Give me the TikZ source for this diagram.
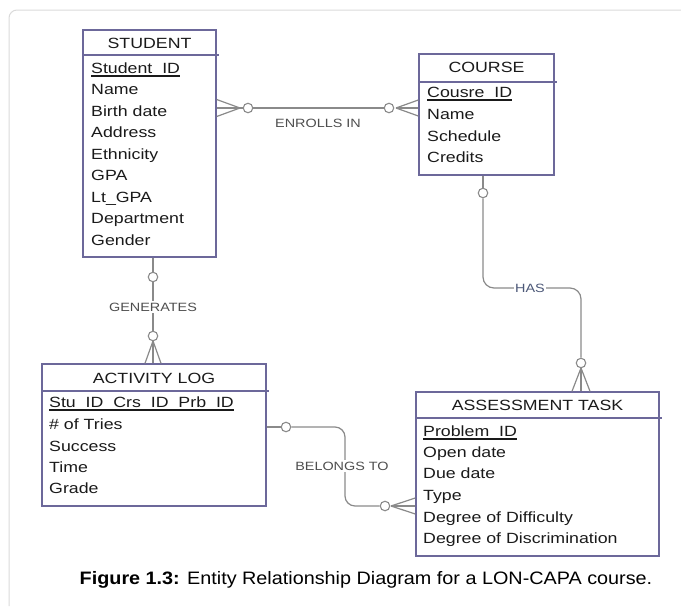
\documentclass[tikz,border=0pt]{standalone}
\usepackage{fontspec}
\setmainfont{Liberation Sans}
\newfontfamily\erfont[FakeStretch=1.2]{Liberation Sans}
\newfontfamily\capfont[FakeStretch=1.1]{Liberation Sans}
\usetikzlibrary{calc}
\definecolor{boxc}{HTML}{6C689A}
\definecolor{linec}{HTML}{8A8A8A}
\definecolor{txtc}{HTML}{1A1A1A}
\definecolor{labc}{HTML}{4E4E4E}
\definecolor{hasc}{HTML}{4C5878}
\definecolor{framec}{HTML}{DADADA}
\begin{document}
\begin{tikzpicture}[x=1pt,y=-1pt,
  entity/.style={draw=boxc, line width=1.4pt, inner sep=0pt},
  divider/.style={draw=boxc, line width=1.4pt},
  head/.style={font=\erfont\fontsize{14.8}{16}\selectfont, text=txtc, inner sep=0pt},
  attr/.style={font=\erfont\fontsize{14.8}{16}\selectfont, text=txtc, inner sep=0pt, anchor=base west},
  keyline/.style={draw=txtc, line width=1.5pt},
  rel/.style={font=\erfont\fontsize{12}{14}\selectfont, text=labc, inner sep=1.5pt, fill=white},
  conn/.style={draw=linec, line width=1.2pt},
  optc/.style={draw=linec, line width=1.1pt, fill=white, circle, inner sep=0pt, minimum size=9.5pt}
]
\useasboundingbox (0,0) rectangle (681,606);
% frame
\draw[framec, line width=1pt, rounded corners=8pt] (9,606) -- (9,10) -- (681,10);

% ---------- entities ----------
\node[entity, minimum width=133pt, minimum height=227pt] (student) at (149.5,143.5) {};
\draw[divider] (student.west |- 0,55) -- ([xshift=2pt]student.east |- 0,55);
\node[head] (studenth) at (149.5,43) {STUDENT};
\node[attr] (s1) at (91,73) {Student\_ID};
\draw[keyline] ([yshift=-2.8pt]s1.base west) -- ([yshift=-2.8pt]s1.base east);
\node[attr] (s2) at (91,94.5) {Name};
\node[attr] (s3) at (91,116) {Birth date};
\node[attr] (s4) at (91,137.5) {Address};
\node[attr] (s5) at (91,159) {Ethnicity};
\node[attr] (s6) at (91,180.5) {GPA};
\node[attr] (s7) at (91,202) {Lt\_GPA};
\node[attr] (s8) at (91,223.5) {Department};
\node[attr] (s9) at (91,245) {Gender};

\node[entity, minimum width=135pt, minimum height=121pt] (course) at (486.5,114.5) {};
\draw[divider] (course.west |- 0,82) -- ([xshift=2pt]course.east |- 0,82);
\node[head] (courseh) at (486.5,67.5) {COURSE};
\node[attr] (c1) at (427,97) {Cousre\_ID};
\draw[keyline] ([yshift=-2.8pt]c1.base west) -- ([yshift=-2.8pt]c1.base east);
\node[attr] (c2) at (427,119) {Name};
\node[attr] (c3) at (427,141) {Schedule};
\node[attr] (c4) at (427,162) {Credits};

\node[entity, minimum width=224pt, minimum height=142pt] (activity) at (154,435) {};
\draw[divider] (activity.west |- 0,391) -- ([xshift=2pt]activity.east |- 0,391);
\node[head] (activityh) at (154,378) {ACTIVITY LOG};
\node[attr] (a1) at (49,407) {Stu\_ID\_Crs\_ID\_Prb\_ID};
\draw[keyline] ([yshift=-2.8pt]a1.base west) -- ([yshift=-2.8pt]a1.base east);
\node[attr] (a2) at (49,429) {\# of Tries};
\node[attr] (a3) at (49,451) {Success};
\node[attr] (a4) at (49,472) {Time};
\node[attr] (a5) at (49,493) {Grade};

\node[entity, minimum width=243pt, minimum height=164pt] (task) at (537.5,474) {};
\draw[divider] (task.west |- 0,418) -- ([xshift=2pt]task.east |- 0,418);
\node[head] (taskh) at (537.5,405) {ASSESSMENT TASK};
\node[attr] (t1) at (423,436) {Problem\_ID};
\draw[keyline] ([yshift=-2.8pt]t1.base west) -- ([yshift=-2.8pt]t1.base east);
\node[attr] (t2) at (423,457) {Open date};
\node[attr] (t3) at (423,478) {Due date};
\node[attr] (t4) at (423,500) {Type};
\node[attr] (t5) at (423,522) {Degree of Difficulty};
\node[attr] (t6) at (423,543) {Degree of Discrimination};

% ---------- ENROLLS IN ----------
\node[optc] (eo1) at (248,108) {};
\node[optc] (eo2) at (389,108) {};
\coordinate (ea1) at (240,108);
\coordinate (ea2) at (396,108);
\draw[conn] (eo1) -- (eo2);
\draw[conn] (ea1) -- (eo1.west);
\draw[conn] (ea1) -- (student.east |- 0,99.5);
\draw[conn] (ea1) -- (student.east |- 0,108);
\draw[conn] (ea1) -- (student.east |- 0,116.5);
\draw[conn] (ea2) -- (course.west |- 0,100);
\draw[conn] (ea2) -- (course.west |- 0,108);
\draw[conn] (ea2) -- (course.west |- 0,116);
\node[rel, fill=none] (enrl) at (318,123) {ENROLLS IN};

% ---------- GENERATES ----------
\coordinate (gx) at (153,0);
\node[optc] (go1) at (153,277) {};
\node[optc] (go2) at (153,336) {};
\coordinate (ga) at (153,341);
\draw[conn] (gx |- student.south) -- (go1);
\draw[conn] (go1) -- (go2);
\draw[conn] (ga) -- (activity.north -| 145,0);
\draw[conn] (ga) -- (activity.north -| 153,0);
\draw[conn] (ga) -- (activity.north -| 161,0);
\node[rel] (gen) at (153,307) {GENERATES};

% ---------- HAS ----------
\coordinate (hx) at (483,0);
\node[optc] (ho1) at (483,193) {};
\node[optc] (ho2) at (581,363) {};
\coordinate (ha) at (581,368);
\coordinate (hc1) at (483,288);
\coordinate (hc2) at (581,288);
\draw[conn] (hx |- course.south) -- (ho1);
\draw[conn, rounded corners=11pt] (ho1) -- (hc1) -- (hc2) -- (ho2);
\draw[conn] (ha) -- (task.north -| 572,0);
\draw[conn] (ha) -- (task.north -| 581,0);
\draw[conn] (ha) -- (task.north -| 590,0);
\node[rel, text=hasc, inner sep=1pt] (has) at (530,288) {HAS};

% ---------- BELONGS TO ----------
\node[optc] (bo1) at (286,427) {};
\node[optc] (bo2) at (385,506) {};
\coordinate (ba) at (391,506);
\coordinate (bc1) at (345,427);
\coordinate (bc2) at (345,506);
\draw[conn] (activity.east |- 0,427) -- (bo1);
\draw[conn, rounded corners=10pt] (bo1) -- (bc1) -- (bc2) -- (bo2);
\draw[conn] (ba) -- (task.west |- 0,498);
\draw[conn] (ba) -- (task.west |- 0,506);
\draw[conn] (ba) -- (task.west |- 0,514);
\node[rel] (bel) at (342,466) {BELONGS TO};

% ---------- caption ----------
\node[font=\capfont\fontsize{18}{20}\selectfont, text=black, inner sep=0pt] (cap) at (366,580)
  {\textbf{Figure 1.3:} Entity Relationship Diagram for a LON-CAPA course.};
\end{tikzpicture}
\end{document}
